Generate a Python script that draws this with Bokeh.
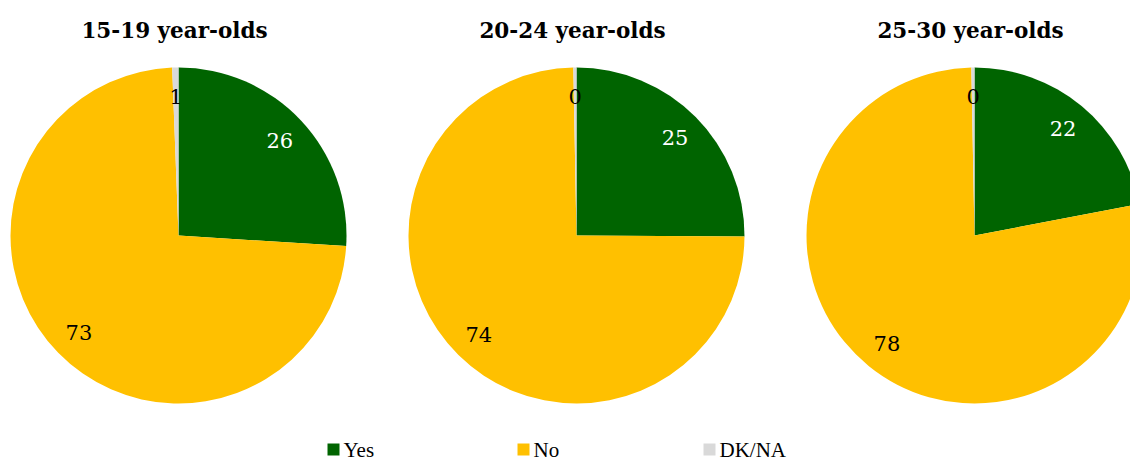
import numpy as np
from bokeh.plotting import figure
from bokeh.models import Range1d, ColumnDataSource
from bokeh.core.properties import value
from bokeh.embed import file_html
from bokeh.resources import INLINE

# ---- data ----
groups = ["15-19 year-olds", "20-24 year-olds", "25-30 year-olds"]
categories = ["Yes", "No", "DK/NA"]
yes_vals = [26.0, 25.1, 22.0]
no_vals = [73.4, 74.6, 77.7]
dkna_vals = [0.6, 0.3, 0.3]
shown_labels = [["26", "73", "1"], ["25", "74", "0"], ["22", "78", "0"]]

colors = ["#006400", "#FFC000", "#D9D9D9"]
label_colors = ["white", "black", "black"]

# ---- layout ----
W, H = 1130, 461
centers_x = [178, 576, 974]
center_y = 226
R = 168
label_r = 139
title_y = 431
legend_x = [333, 523, 709]
legend_y = 12

p = figure(width=W, height=H, output_backend="svg", toolbar_location=None,
           x_range=Range1d(0, W), y_range=Range1d(0, H), min_border=0)
p.axis.visible = False
p.grid.visible = False
p.outline_line_color = None
p.background_fill_color = "white"
p.border_fill_color = "white"

series = [yes_vals, no_vals, dkna_vals]
for gi, g in enumerate(groups):
    vals = np.array([s[gi] for s in series], dtype=float)
    fr = vals / vals.sum()
    cum = np.concatenate([[0], np.cumsum(fr)])
    start = np.pi / 2 - cum[:-1] * 2 * np.pi
    end = np.pi / 2 - cum[1:] * 2 * np.pi
    cx = centers_x[gi]
    src = ColumnDataSource(dict(x=[cx] * 3, y=[center_y] * 3, s=start, e=end, c=colors))
    p.wedge(x="x", y="y", radius=R, start_angle="s", end_angle="e",
            direction="clock", fill_color="c", line_color=None, source=src)
    mid = (start + end) / 2
    lx = cx + label_r * np.cos(mid)
    ly = center_y + label_r * np.sin(mid)
    lsrc = ColumnDataSource(dict(x=lx, y=ly, t=shown_labels[gi], c=label_colors))
    p.text(x="x", y="y", text="t", text_color="c", source=lsrc,
           text_align="center", text_baseline="middle",
           text_font=value("DejaVu Serif"), text_font_size="21px")
    p.text(x=[cx - 4], y=[title_y], text=[g], text_align="center", text_baseline="middle",
           text_font=value("DejaVu Serif"), text_font_size="21.5px",
           text_font_style="bold", text_color="black")

# legend
p.scatter(x=legend_x, y=[legend_y] * 3, marker="square", size=12,
          fill_color=colors, line_color=None)
p.text(x=[x + 10 for x in legend_x], y=[legend_y] * 3, text=categories,
       text_align="left", text_baseline="middle",
       text_font=value("Liberation Serif"), text_font_size="21px", text_color="black")

open("out.html", "w").write(file_html(p, INLINE))
